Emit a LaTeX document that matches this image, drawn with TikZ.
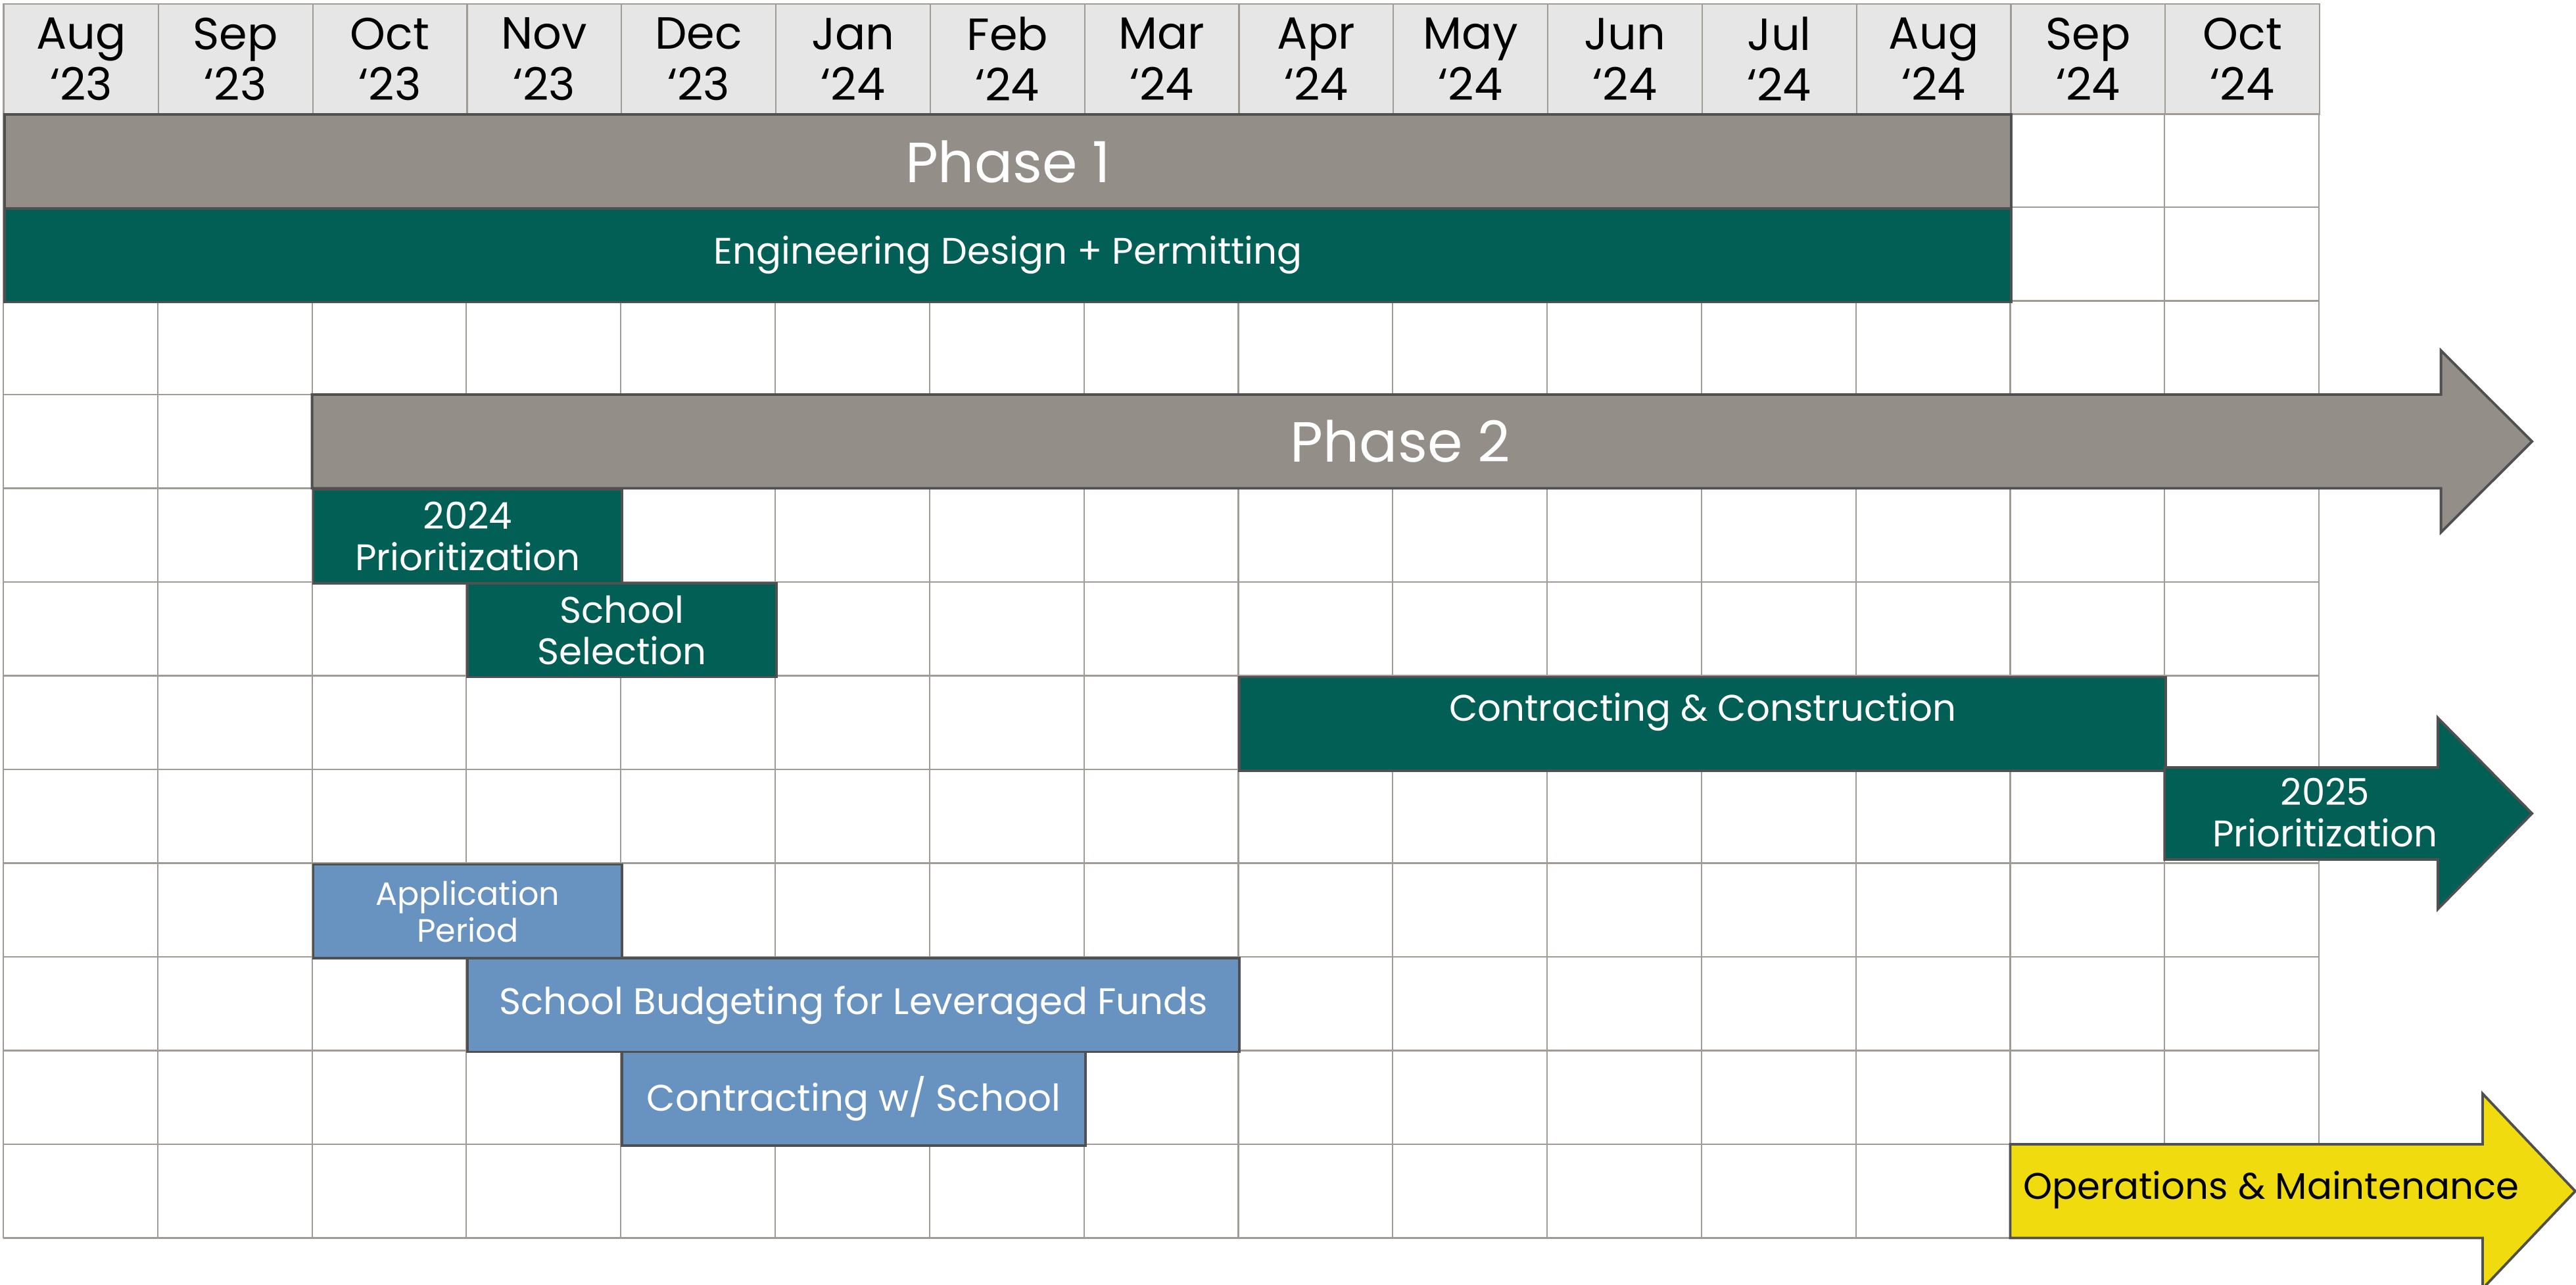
\documentclass[tikz,border=0pt]{standalone}
\usepackage{fontspec}
\setmainfont{Poppins}
\definecolor{phasegrey}{HTML}{938E87}
\definecolor{deepteal}{HTML}{025F55}
\definecolor{steelblue}{HTML}{6893C0}
\definecolor{omyellow}{HTML}{F0DC0E}
\definecolor{edge}{HTML}{505050}
\definecolor{gridgrey}{HTML}{A09B95}
\definecolor{headfill}{HTML}{E6E6E6}

\begin{document}
\begin{tikzpicture}[
  x=2.348cm, y=-1.425cm,
  gridline/.style={draw=gridgrey, line width=0.6pt},
  month/.style={draw=gridgrey, fill=headfill, line width=0.6pt, anchor=north west,
    minimum width=2.348cm, minimum height=1.674cm, inner sep=0pt, align=center,
    font=\fontsize{19.5}{22}\selectfont},
  bar/.style={draw=edge, line width=1.1pt, anchor=north west, minimum height=1.425cm,
    inner sep=0pt, align=center, text=white, font=\fontsize{16}{18}\selectfont},
  arrowbar/.style={draw=edge, line width=1.1pt},
  bigtext/.style={text=white, font=\fontsize{24.5}{28}\selectfont},
  >=stealth
]
\useasboundingbox (-0.0213,-1.2105) rectangle (16.665,12.5);

% Grid
\foreach \c in {0,...,15}
  \draw[gridline] (\c,-1.175) -- (\c,12);
\foreach \r in {0,...,12}
  \draw[gridline] (0,\r) -- (15,\r);

% Month header
\foreach \mon/\yr [count=\i from 0] in {Aug/23,Sep/23,Oct/23,Nov/23,Dec/23,Jan/24,Feb/24,
    Mar/24,Apr/24,May/24,Jun/24,Jul/24,Aug/24,Sep/24,Oct/24}
  \node[month] (m\i) at (\i,-1.175) {\mon\\‘\yr};

% Phase 1
\node[bar, fill=phasegrey, minimum width=30.524cm, font=\fontsize{24.5}{28}\selectfont]
  (phase1) at (0,0) {Phase 1};
\node[bar, fill=deepteal, minimum width=30.524cm] (design) at (0,1)
  {Engineering Design + Permitting};

% Phase 2
\draw[arrowbar, fill=phasegrey] (2,3) -- (15.79,3) -- (15.79,2.53) -- (16.38,3.5)
  -- (15.79,4.47) -- (15.79,4) -- (2,4) -- cycle;
\node[bigtext] (phase2) at (9.05,3.5) {Phase 2};

\node[bar, fill=deepteal, minimum width=4.696cm] (prio24) at (2,4) {2024\\Prioritization};
\node[bar, fill=deepteal, minimum width=4.696cm] (select) at (3,5) {School\\Selection};
\node[bar, fill=deepteal, minimum width=14.088cm] (constr) at (8,6) {};
\node[text=white, font=\fontsize{16}{18}\selectfont] (constrtext)
  at ([yshift=5pt]constr.center) {Contracting \& Construction};

\draw[arrowbar, fill=deepteal] (14,6.98) -- (15.77,6.98) -- (15.77,6.45) -- (16.38,7.47)
  -- (15.77,8.49) -- (15.77,7.96) -- (14,7.96) -- cycle;
\node[text=white, align=center, font=\fontsize{16}{18}\selectfont] (prio25)
  at (15.04,7.46) {2025\\Prioritization};

% School side
\node[bar, fill=steelblue, minimum width=4.696cm, font=\fontsize{14}{16}\selectfont]
  (apply) at (2,8) {Application\\Period};
\node[bar, fill=steelblue, minimum width=11.74cm] (budget) at (3,9)
  {School Budgeting for Leveraged Funds};
\node[bar, fill=steelblue, minimum width=7.044cm] (school) at (4,10)
  {Contracting w/ School};

% Operations
\draw[arrowbar, fill=omyellow] (13,11) -- (16.06,11) -- (16.06,10.46) -- (16.66,11.5)
  -- (16.06,12.54) -- (16.06,12) -- (13,12) -- cycle;
\node[font=\fontsize{16}{18}\selectfont] (ops) at (14.69,11.49) {Operations \& Maintenance};

\end{tikzpicture}
\end{document}
